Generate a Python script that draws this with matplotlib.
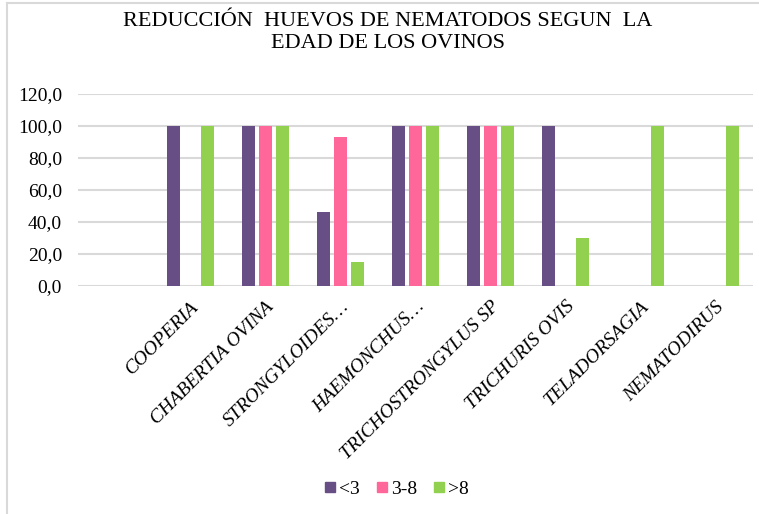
import matplotlib
matplotlib.use("Agg")
import matplotlib.pyplot as plt
from matplotlib.lines import Line2D
import numpy as np

categories = ["COOPERIA", "CHABERTIA OVINA", "STRONGYLOIDES…", "HAEMONCHUS…",
              "TRICHOSTRONGYLUS SP", "TRICHURIS OVIS", "TELADORSAGIA", "NEMATODIRUS"]
series_names = ["<3", "3-8", ">8"]
vals_lt3 = [100, 100, 46, 100, 100, 100, 0, 0]
vals_3_8 = [0, 100, 93, 100, 100, 0, 0, 0]
vals_gt8 = [100, 100, 15, 100, 100, 30, 100, 100]
colors = ["#674f85", "#ff6699", "#92d050"]
yticks = [0, 20, 40, 60, 80, 100, 120]
title = "REDUCCIÓN  HUEVOS DE NEMATODOS SEGUN  LA\nEDAD DE LOS OVINOS"

plt.rcParams["font.family"] = ["Liberation Serif", "DejaVu Serif"]

fig = plt.figure(figsize=(7.59, 5.14), dpi=100)
ax = fig.add_axes([78/759, 1-285.7/514, (753-78)/759, (285.7-93.5)/514])

x = np.arange(len(categories))
w = 0.173
step = 0.222
for i, (vals, c, name) in enumerate(zip([vals_lt3, vals_3_8, vals_gt8], colors, series_names)):
    ax.bar(x + (i-1)*step, vals, width=w, color=c, label=name, zorder=3)

ax.set_xlim(-1.5, 7.5)
ax.set_ylim(0, 120)
ax.set_yticks(yticks)
ax.set_yticklabels([f"{v:.1f}".replace(".", ",") for v in yticks], fontsize=14)
ax.yaxis.grid(True, color="#d9d9d9", linewidth=1.5, zorder=0)
ax.set_axisbelow(True)
for s in ax.spines.values():
    s.set_visible(False)
ax.tick_params(axis="both", length=0)
ax.tick_params(axis="y", pad=11.5)
ax.set_xticks(x)
ax.set_xticklabels(categories, rotation=45, ha="right", va="top",
                   rotation_mode="anchor", fontsize=14, style="italic")
ax.tick_params(axis="x", pad=9)

fig.text(388/759, 1-12/514, title, ha="center", va="top", fontsize=16,
         linespacing=1.2)

handles = [Line2D([], [], marker="s", linestyle="none", markersize=7,
                  markerfacecolor=c, markeredgecolor=c) for c in colors]
fig.legend(handles, series_names, loc="center", bbox_to_anchor=(396/759, 1-489/514),
           ncol=3, frameon=False, fontsize=14, handlelength=0.7,
           handletextpad=0.1, columnspacing=0.8)

# chart-area border (left and top visible)
fig.add_artist(Line2D([7/759, 7/759], [0, 1-3/514], transform=fig.transFigure,
                      color="#d9d9d9", linewidth=1.5))
fig.add_artist(Line2D([7/759, 1], [1-3/514, 1-3/514], transform=fig.transFigure,
                      color="#d9d9d9", linewidth=1.5))

fig.savefig("out.png", dpi=100)
